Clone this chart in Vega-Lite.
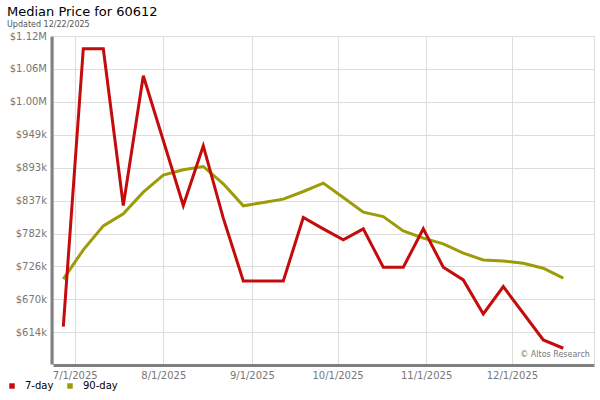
{
  "$schema": "https://vega.github.io/schema/vega-lite/v6.json",
  "width": 541,
  "height": 328,
  "autosize": {"type": "none"},
  "padding": {"left": 53, "top": 36, "right": 6, "bottom": 36},
  "background": "white",
  "title": {
    "text": "Median Price for 60612",
    "subtitle": "Updated 12/22/2025",
    "anchor": "start",
    "frame": "group",
    "dx": -46,
    "offset": 2,
    "font": "DejaVu Sans",
    "fontSize": 13,
    "fontWeight": "normal",
    "color": "#000000",
    "subtitleFont": "DejaVu Sans",
    "subtitleFontSize": 8,
    "subtitleColor": "#555555",
    "subtitlePadding": 2
  },
  "config": {
    "view": {"stroke": "#dddddd", "strokeWidth": 1},
    "font": "DejaVu Sans"
  },
  "data": {
    "values": [
      {"date": "2025-06-27T00:00:00", "series": "7-day", "price": 623700},
      {"date": "2025-07-04T00:00:00", "series": "7-day", "price": 1094700},
      {"date": "2025-07-11T00:00:00", "series": "7-day", "price": 1094700},
      {"date": "2025-07-18T00:00:00", "series": "7-day", "price": 828900},
      {"date": "2025-07-25T00:00:00", "series": "7-day", "price": 1048900},
      {"date": "2025-08-01T00:00:00", "series": "7-day", "price": 939200},
      {"date": "2025-08-08T00:00:00", "series": "7-day", "price": 828900},
      {"date": "2025-08-15T00:00:00", "series": "7-day", "price": 930200},
      {"date": "2025-08-22T00:00:00", "series": "7-day", "price": 807600},
      {"date": "2025-08-29T00:00:00", "series": "7-day", "price": 701200},
      {"date": "2025-09-05T00:00:00", "series": "7-day", "price": 701200},
      {"date": "2025-09-12T00:00:00", "series": "7-day", "price": 701200},
      {"date": "2025-09-19T00:00:00", "series": "7-day", "price": 808600},
      {"date": "2025-09-26T00:00:00", "series": "7-day", "price": 789400},
      {"date": "2025-10-03T00:00:00", "series": "7-day", "price": 770700},
      {"date": "2025-10-10T00:00:00", "series": "7-day", "price": 789400},
      {"date": "2025-10-17T00:00:00", "series": "7-day", "price": 724400},
      {"date": "2025-10-24T00:00:00", "series": "7-day", "price": 724400},
      {"date": "2025-10-31T00:00:00", "series": "7-day", "price": 789400},
      {"date": "2025-11-07T00:00:00", "series": "7-day", "price": 724400},
      {"date": "2025-11-14T00:00:00", "series": "7-day", "price": 702900},
      {"date": "2025-11-21T00:00:00", "series": "7-day", "price": 645200},
      {"date": "2025-11-28T00:00:00", "series": "7-day", "price": 691500},
      {"date": "2025-12-05T00:00:00", "series": "7-day", "price": 646400},
      {"date": "2025-12-12T00:00:00", "series": "7-day", "price": 601100},
      {"date": "2025-12-19T00:00:00", "series": "7-day", "price": 587100},
      {"date": "2025-06-27T00:00:00", "series": "90-day", "price": 704100},
      {"date": "2025-07-04T00:00:00", "series": "90-day", "price": 753800},
      {"date": "2025-07-11T00:00:00", "series": "90-day", "price": 794500},
      {"date": "2025-07-18T00:00:00", "series": "90-day", "price": 814800},
      {"date": "2025-07-25T00:00:00", "series": "90-day", "price": 851600},
      {"date": "2025-08-01T00:00:00", "series": "90-day", "price": 880500},
      {"date": "2025-08-08T00:00:00", "series": "90-day", "price": 889500},
      {"date": "2025-08-15T00:00:00", "series": "90-day", "price": 895100},
      {"date": "2025-08-22T00:00:00", "series": "90-day", "price": 865700},
      {"date": "2025-08-29T00:00:00", "series": "90-day", "price": 828400},
      {"date": "2025-09-05T00:00:00", "series": "90-day", "price": 834000},
      {"date": "2025-09-12T00:00:00", "series": "90-day", "price": 839800},
      {"date": "2025-09-19T00:00:00", "series": "90-day", "price": 852700},
      {"date": "2025-09-26T00:00:00", "series": "90-day", "price": 866900},
      {"date": "2025-10-03T00:00:00", "series": "90-day", "price": 842500},
      {"date": "2025-10-10T00:00:00", "series": "90-day", "price": 817700},
      {"date": "2025-10-17T00:00:00", "series": "90-day", "price": 810300},
      {"date": "2025-10-24T00:00:00", "series": "90-day", "price": 786000},
      {"date": "2025-10-31T00:00:00", "series": "90-day", "price": 773600},
      {"date": "2025-11-07T00:00:00", "series": "90-day", "price": 764000},
      {"date": "2025-11-14T00:00:00", "series": "90-day", "price": 748200},
      {"date": "2025-11-21T00:00:00", "series": "90-day", "price": 736800},
      {"date": "2025-11-28T00:00:00", "series": "90-day", "price": 735100},
      {"date": "2025-12-05T00:00:00", "series": "90-day", "price": 731200},
      {"date": "2025-12-12T00:00:00", "series": "90-day", "price": 722700},
      {"date": "2025-12-19T00:00:00", "series": "90-day", "price": 705800}
    ]
  },
  "encoding": {
    "x": {
      "field": "date",
      "type": "temporal",
      "scale": {
        "domain": [
          {"year": 2025, "month": 6, "date": 23, "hours": 9, "minutes": 30},
          {"year": 2025, "month": 12, "date": 29, "hours": 18}
        ]
      },
      "axis": {
        "title": null,
        "values": [
          {"year": 2025, "month": 7, "date": 1},
          {"year": 2025, "month": 8, "date": 1},
          {"year": 2025, "month": 9, "date": 1},
          {"year": 2025, "month": 10, "date": 1},
          {"year": 2025, "month": 11, "date": 1},
          {"year": 2025, "month": 12, "date": 1}
        ],
        "format": "%-m/%-d/%Y",
        "ticks": false,
        "domainColor": "#808080",
        "domainWidth": 3,
        "offset": 1,
        "labelColor": "#777777",
        "labelFont": "DejaVu Sans",
        "labelFontSize": 10,
        "labelPadding": 5,
        "gridColor": "#dddddd",
        "gridWidth": 1
      }
    },
    "y": {
      "field": "price",
      "type": "quantitative",
      "scale": {"domain": [560400, 1116220], "nice": false, "zero": false},
      "axis": {
        "title": null,
        "values": [614200, 669980, 725760, 781540, 837320, 893100, 948880, 1004660, 1060440, 1116220],
        "labelExpr": "datum.value >= 1000000 ? '$' + format(datum.value / 1000000, '.2f') + 'M' : '$' + format(datum.value / 1000, '.0f') + 'k'",
        "ticks": false,
        "domainColor": "#808080",
        "domainWidth": 3,
        "offset": 1.5,
        "labelColor": "#777777",
        "labelFont": "DejaVu Sans",
        "labelFontSize": 10,
        "labelPadding": 5,
        "gridColor": "#dddddd",
        "gridWidth": 1
      }
    },
    "color": {
      "field": "series",
      "type": "nominal",
      "scale": {"domain": ["7-day", "90-day"], "range": ["#c40c0c", "#9c9c08"]},
      "legend": {
        "title": null,
        "orient": "none",
        "legendX": -46,
        "legendY": 345,
        "direction": "horizontal",
        "symbolType": "square",
        "symbolSize": 30,
        "symbolStrokeWidth": 0,
        "labelFont": "DejaVu Sans",
        "labelFontSize": 10,
        "labelColor": "#000000",
        "labelOffset": 8,
        "columnPadding": 11,
        "encode": {
          "symbols": {
            "update": {
              "fill": {"scale": "color", "field": "value"},
              "fillOpacity": {"value": 1},
              "strokeWidth": {"value": 0}
            }
          }
        }
      }
    }
  },
  "layer": [
    {
      "transform": [{"filter": "datum.series == '90-day'"}],
      "mark": {"type": "line", "strokeWidth": 3, "clip": true}
    },
    {
      "transform": [{"filter": "datum.series == '7-day'"}],
      "mark": {"type": "line", "strokeWidth": 3, "clip": true}
    },
    {
      "data": {"values": [{"date": "2025-12-28T08:00:00", "price": 572300, "label": "© Altos Research"}]},
      "mark": {"type": "text", "align": "right", "baseline": "alphabetic", "fontSize": 8, "color": "#777777", "font": "DejaVu Sans"},
      "encoding": {
        "text": {"field": "label"},
        "color": {"value": "#777777"}
      }
    }
  ]
}
